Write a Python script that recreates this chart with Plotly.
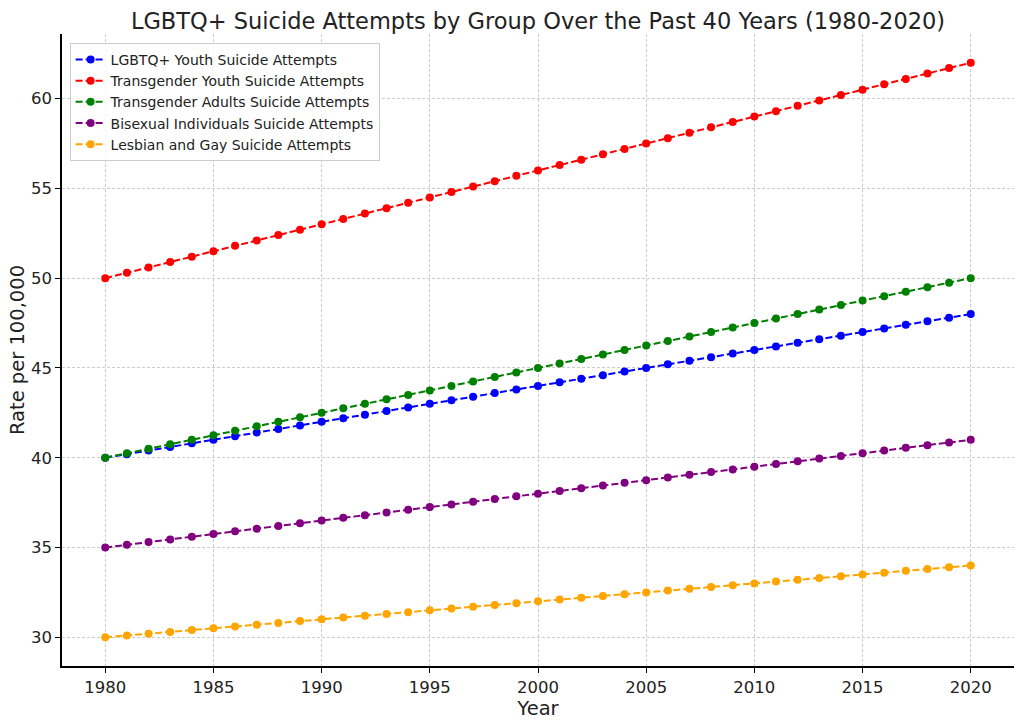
import plotly.graph_objects as go

years = list(range(1980, 2021))

lgbtq_youth = [40.0, 40.2, 40.4, 40.6, 40.8, 41.0, 41.2, 41.4, 41.6, 41.8,
               42.0, 42.2, 42.4, 42.6, 42.8, 43.0, 43.2, 43.4, 43.6, 43.8,
               44.0, 44.2, 44.4, 44.6, 44.8, 45.0, 45.2, 45.4, 45.6, 45.8,
               46.0, 46.2, 46.4, 46.6, 46.8, 47.0, 47.2, 47.4, 47.6, 47.8, 48.0]
trans_youth = [50.0, 50.3, 50.6, 50.9, 51.2, 51.5, 51.8, 52.1, 52.4, 52.7,
               53.0, 53.3, 53.6, 53.9, 54.2, 54.5, 54.8, 55.1, 55.4, 55.7,
               56.0, 56.3, 56.6, 56.9, 57.2, 57.5, 57.8, 58.1, 58.4, 58.7,
               59.0, 59.3, 59.6, 59.9, 60.2, 60.5, 60.8, 61.1, 61.4, 61.7, 62.0]
trans_adults = [40.0, 40.25, 40.5, 40.75, 41.0, 41.25, 41.5, 41.75, 42.0, 42.25,
                42.5, 42.75, 43.0, 43.25, 43.5, 43.75, 44.0, 44.25, 44.5, 44.75,
                45.0, 45.25, 45.5, 45.75, 46.0, 46.25, 46.5, 46.75, 47.0, 47.25,
                47.5, 47.75, 48.0, 48.25, 48.5, 48.75, 49.0, 49.25, 49.5, 49.75, 50.0]
bisexual = [35.0, 35.15, 35.3, 35.45, 35.6, 35.75, 35.9, 36.05, 36.2, 36.35,
            36.5, 36.65, 36.8, 36.95, 37.1, 37.25, 37.4, 37.55, 37.7, 37.85,
            38.0, 38.15, 38.3, 38.45, 38.6, 38.75, 38.9, 39.05, 39.2, 39.35,
            39.5, 39.65, 39.8, 39.95, 40.1, 40.25, 40.4, 40.55, 40.7, 40.85, 41.0]
lesbian_gay = [30.0, 30.1, 30.2, 30.3, 30.4, 30.5, 30.6, 30.7, 30.8, 30.9,
               31.0, 31.1, 31.2, 31.3, 31.4, 31.5, 31.6, 31.7, 31.8, 31.9,
               32.0, 32.1, 32.2, 32.3, 32.4, 32.5, 32.6, 32.7, 32.8, 32.9,
               33.0, 33.1, 33.2, 33.3, 33.4, 33.5, 33.6, 33.7, 33.8, 33.9, 34.0]

series = [
    ("LGBTQ+ Youth Suicide Attempts", lgbtq_youth, "blue"),
    ("Transgender Youth Suicide Attempts", trans_youth, "red"),
    ("Transgender Adults Suicide Attempts", trans_adults, "green"),
    ("Bisexual Individuals Suicide Attempts", bisexual, "purple"),
    ("Lesbian and Gay Suicide Attempts", lesbian_gay, "orange"),
]

fig = go.Figure()
for name, vals, color in series:
    fig.add_trace(go.Scatter(
        x=years, y=vals, name=name, mode="lines+markers",
        line=dict(color=color, width=2, dash="7px,3px"),
        marker=dict(color=color, size=8),
    ))

axis_common = dict(
    showline=True, linecolor="black", linewidth=1.5,
    ticks="outside", ticklen=5, tickcolor="black", tickwidth=1,
    showgrid=True, gridcolor="#cccccc", griddash="3px,2px", gridwidth=1,
    zeroline=False, mirror=False,
    tickfont=dict(size=16.5, color="#222"),
)

fig.update_layout(
    width=1024, height=724,
    paper_bgcolor="white", plot_bgcolor="white",
    font=dict(family="DejaVu Sans", color="#222"),
    margin=dict(l=62, r=10, t=34, b=58),
    title=dict(text="LGBTQ+ Suicide Attempts by Group Over the Past 40 Years (1980-2020)",
               x=0.5, xref="paper", xanchor="center", y=0.971, yanchor="middle",
               font=dict(size=22.5, color="#222")),
    xaxis=dict(range=[1978, 2022], tickvals=list(range(1980, 2021, 5)),
               title=dict(text="Year", font=dict(size=19.5), standoff=0), **axis_common),
    yaxis=dict(range=[28.4, 63.6], tickvals=[30, 35, 40, 45, 50, 55, 60],
               title=dict(text="Rate per 100,000", font=dict(size=19.5), standoff=1), **axis_common),
    legend=dict(x=0.008, y=0.986, xanchor="left", yanchor="top",
                bgcolor="rgba(255,255,255,0.8)", bordercolor="#cccccc", borderwidth=1,
                font=dict(size=14, color="#222"), tracegroupgap=0, itemwidth=30),
    showlegend=True,
)

fig.write_html("out.html")
